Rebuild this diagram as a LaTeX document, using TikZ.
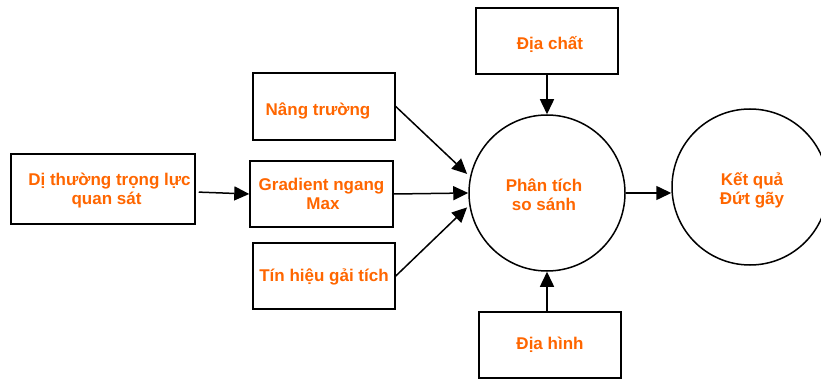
\documentclass[tikz,border=0pt]{standalone}
\usepackage{fontspec}
\setmainfont{Liberation Sans}
\usetikzlibrary{arrows.meta}
\definecolor{txtorange}{RGB}{255,102,0}
\newcommand{\twolines}[2]{\begin{tabular}[b]{@{}c@{}}\smash{#1}\\\smash{#2}\end{tabular}}
\tikzset{
  every picture/.style={x=1pt,y=-1pt},
  lbl/.style={font=\fontsize{17}{19}\selectfont\bfseries,text=txtorange,text depth=0pt},
  box/.style={lbl,draw=black,line width=1.5pt,rectangle,inner sep=0pt},
  circ/.style={lbl,draw=black,line width=1.5pt,circle,minimum size=156pt,inner sep=0pt},
  conn/.style={line width=1.5pt,-{Triangle[length=15pt,width=14pt]}}
}
\begin{document}
\begin{tikzpicture}
\useasboundingbox (0,0) rectangle (821,379);
\clip (0,0) rectangle (821,379);
\node[box,minimum width=184pt,minimum height=70pt,text height=30.6pt] (dt) at (103,189)
  {\twolines{\hspace*{13pt}Dị thường trọng lực}{\hspace*{7pt}quan sát}};
\node[box,minimum width=142pt,minimum height=67pt,text height=19pt] (nt) at (324,106.5)
  {Nâng trường\hspace*{12pt}};
\node[box,minimum width=143pt,minimum height=66pt,text height=32pt] (gr) at (321.5,194)
  {\twolines{Gradient ngang}{\hspace*{3pt}Max}};
\node[box,minimum width=142pt,minimum height=66pt,text height=11.4pt] (th) at (324,276)
  {Tín hiệu gải tích};
\node[box,minimum width=142pt,minimum height=66pt,text height=16.6pt] (dc) at (547,41)
  {\hspace*{6pt}Địa chất};
\node[box,minimum width=142pt,minimum height=66pt,text height=8.6pt] (dh) at (550,345)
  {Địa hình};
\node[circ,text height=36pt] (pt) at (547,193)
  {\twolines{Phân tích\hspace*{6pt}}{so sánh\hspace*{6pt}}};
\node[circ,text height=34.6pt] (kq) at (750,187)
  {\twolines{\hspace*{4pt}Kết quả}{\hspace*{4pt}Đứt gãy}};
\draw[conn,shorten <=3pt] ([yshift=-3pt]dt.east) -- (gr.west);
\draw[conn,shorten >=4pt] (nt.east) -- (pt.168);
\draw[conn] (gr.east) -- (pt.west);
\draw[conn,shorten >=3pt] (th.east) -- (pt.189);
\draw[conn] (dc.south) -- (pt.north);
\draw[conn] (pt.south |- dh.north) -- (pt.south);
\draw[conn] (pt.east) -- (pt.east -| kq.west);
\end{tikzpicture}
\end{document}
